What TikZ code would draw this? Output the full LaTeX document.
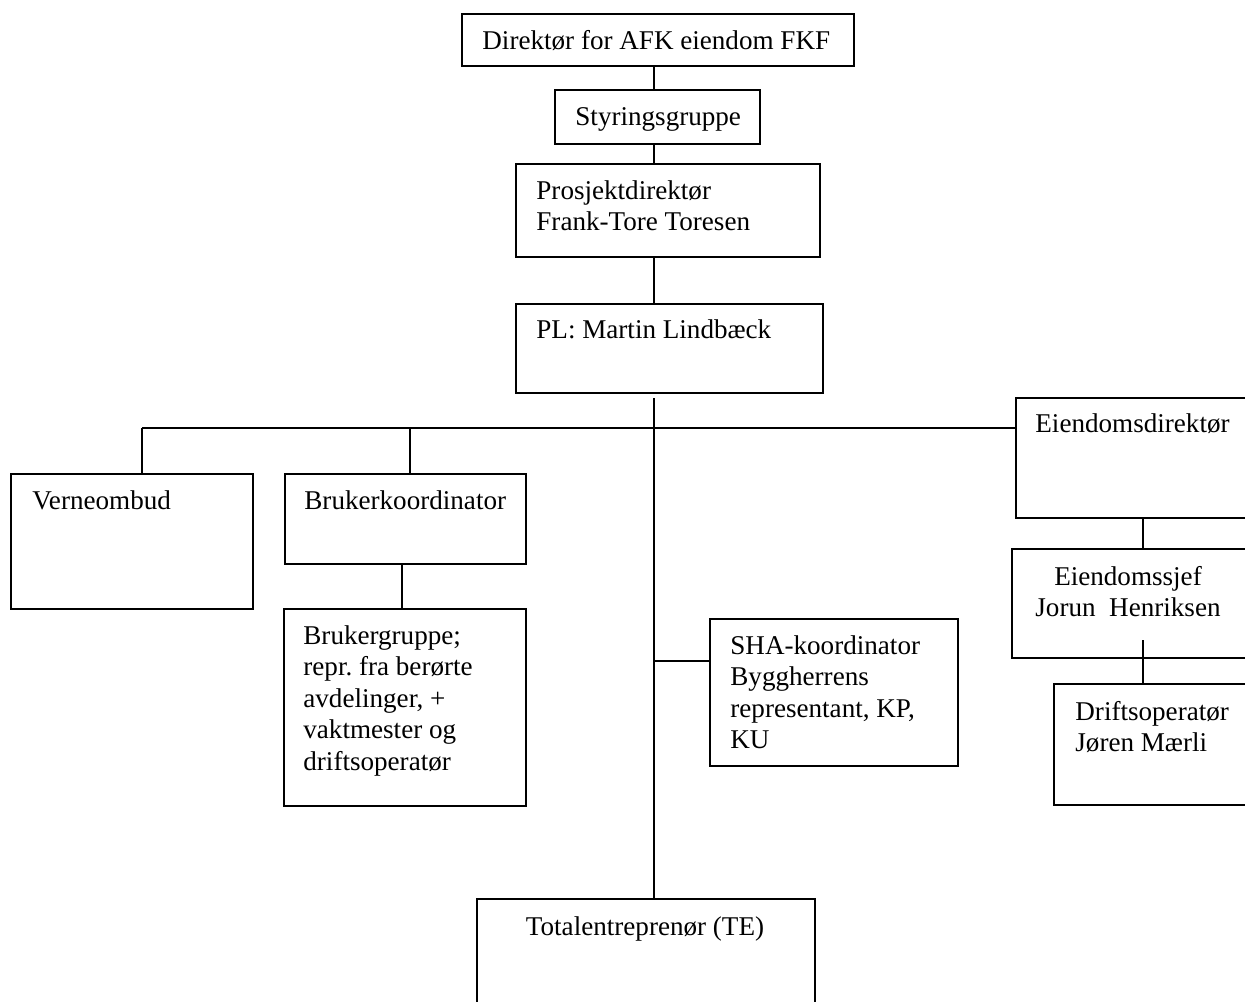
\documentclass[tikz,border=0pt]{standalone}
\usepackage{fontspec}
\setmainfont{Liberation Serif}
\frenchspacing
\newcommand{\fsz}{\fontsize{13.55pt}{15.8pt}\selectfont\frenchspacing}
\begin{document}
\begin{tikzpicture}[x=0.5pt,y=-0.5pt,
  box/.style={draw, line width=1pt, inner sep=0pt, anchor=north west},
  txt/.style={inner sep=0pt, anchor=base west, font=\fsz},
  ctxt/.style={inner sep=0pt, anchor=base, font=\fsz},
  conn/.style={line width=1pt}]
\useasboundingbox (0,0) rectangle (1245,1001);
\clip (0,0) rectangle (1245,1001);
\fill[white] (0,0) rectangle (1245,1001);

% boxes
\node[box, minimum width=196pt, minimum height=26pt] (dir) at (461,13) {};
\node[box, minimum width=102.5pt, minimum height=27pt] (sty) at (554,89) {};
\node[box, minimum width=152pt, minimum height=46.5pt] (pro) at (515,163) {};
\node[box, minimum width=153.5pt, minimum height=44.5pt] (pl) at (515,303) {};
\node[box, minimum width=121pt, minimum height=67.5pt] (ver) at (10,473) {};
\node[box, minimum width=120.5pt, minimum height=45pt] (bk) at (284,473) {};
\node[box, minimum width=121pt, minimum height=98.5pt] (bg) at (283,608) {};
\node[box, minimum width=124pt, minimum height=73.5pt] (sha) at (709,618) {};
\node[box, minimum width=169pt, minimum height=60pt] (te) at (476,898) {};
\node[box, minimum width=120pt, minimum height=60pt] (ed) at (1015,397) {};
\node[box, minimum width=122pt, minimum height=54.5pt] (es) at (1011,548) {};
\node[box, minimum width=100pt, minimum height=60.5pt] (do) at (1053,683) {};

% texts
\node[txt] (dirt) at (482,49) {Direktør for AFK eiendom FKF};
\node[txt] (styt) at (575,125) {Styringsgruppe};
\node[txt] (prot) at (536,199) {\parbox[t]{150pt}{Prosjektdirektør\\Frank-Tore Toresen}};
\node[txt] (plt) at (536,338) {PL: Martin Lindbæck};
\node[txt] (vert) at (32,509) {Verneombud};
\node[txt] (bkt) at (304,509) {Brukerkoordinator};
\node[txt] (bgt) at (303,644) {\parbox[t]{115pt}{Brukergruppe;\\repr. fra berørte\\avdelinger, +\\vaktmester og\\driftsoperatør}};
\node[txt] (shat) at (730,654) {\parbox[t]{115pt}{SHA-koordinator\\Byggherrens\\representant, KP,\\KU}};
\node[ctxt] (tet) at (645,935) {Totalentreprenør (TE)};
\node[txt] (edt) at (1035,432) {Eiendomsdirektør};
\node[ctxt] (est) at (1128,585) {\parbox[t]{115pt}{\centering Eiendomssjef\\Jorun\ \ Henriksen}};
\node[txt] (dot) at (1075,720) {\parbox[t]{100pt}{Driftsoperatør\\Jøren Mærli}};

% helper coordinates
\coordinate (sp) at (654,0);
\coordinate (hub) at (654,398);
\coordinate (barL) at (142,428);
\coordinate (barB) at (410,428);
\coordinate (bgx) at (402,0);
\coordinate (shay) at (0,661);
\coordinate (rx) at (1143,0);
\coordinate (esl) at (1143,640);

% connectors
\draw[conn] (dir.south -| sp) -- (sty.north -| sp);
\draw[conn] (sty.south -| sp) -- (pro.north -| sp);
\draw[conn] (pro.south -| sp) -- (pl.north -| sp);
\draw[conn] (hub) -- (te.north -| sp);
\draw[conn] (barL) -- (barL -| ed.west);
\draw[conn] (barL) -- (barL |- ver.north);
\draw[conn] (barB) -- (barB |- bk.north);
\draw[conn] (bk.south -| bgx) -- (bg.north -| bgx);
\draw[conn] (shay -| sp) -- (shay -| sha.west);
\draw[conn] (ed.south -| rx) -- (es.north -| rx);
\draw[conn] (esl) -- (do.north -| rx);
\end{tikzpicture}
\end{document}
